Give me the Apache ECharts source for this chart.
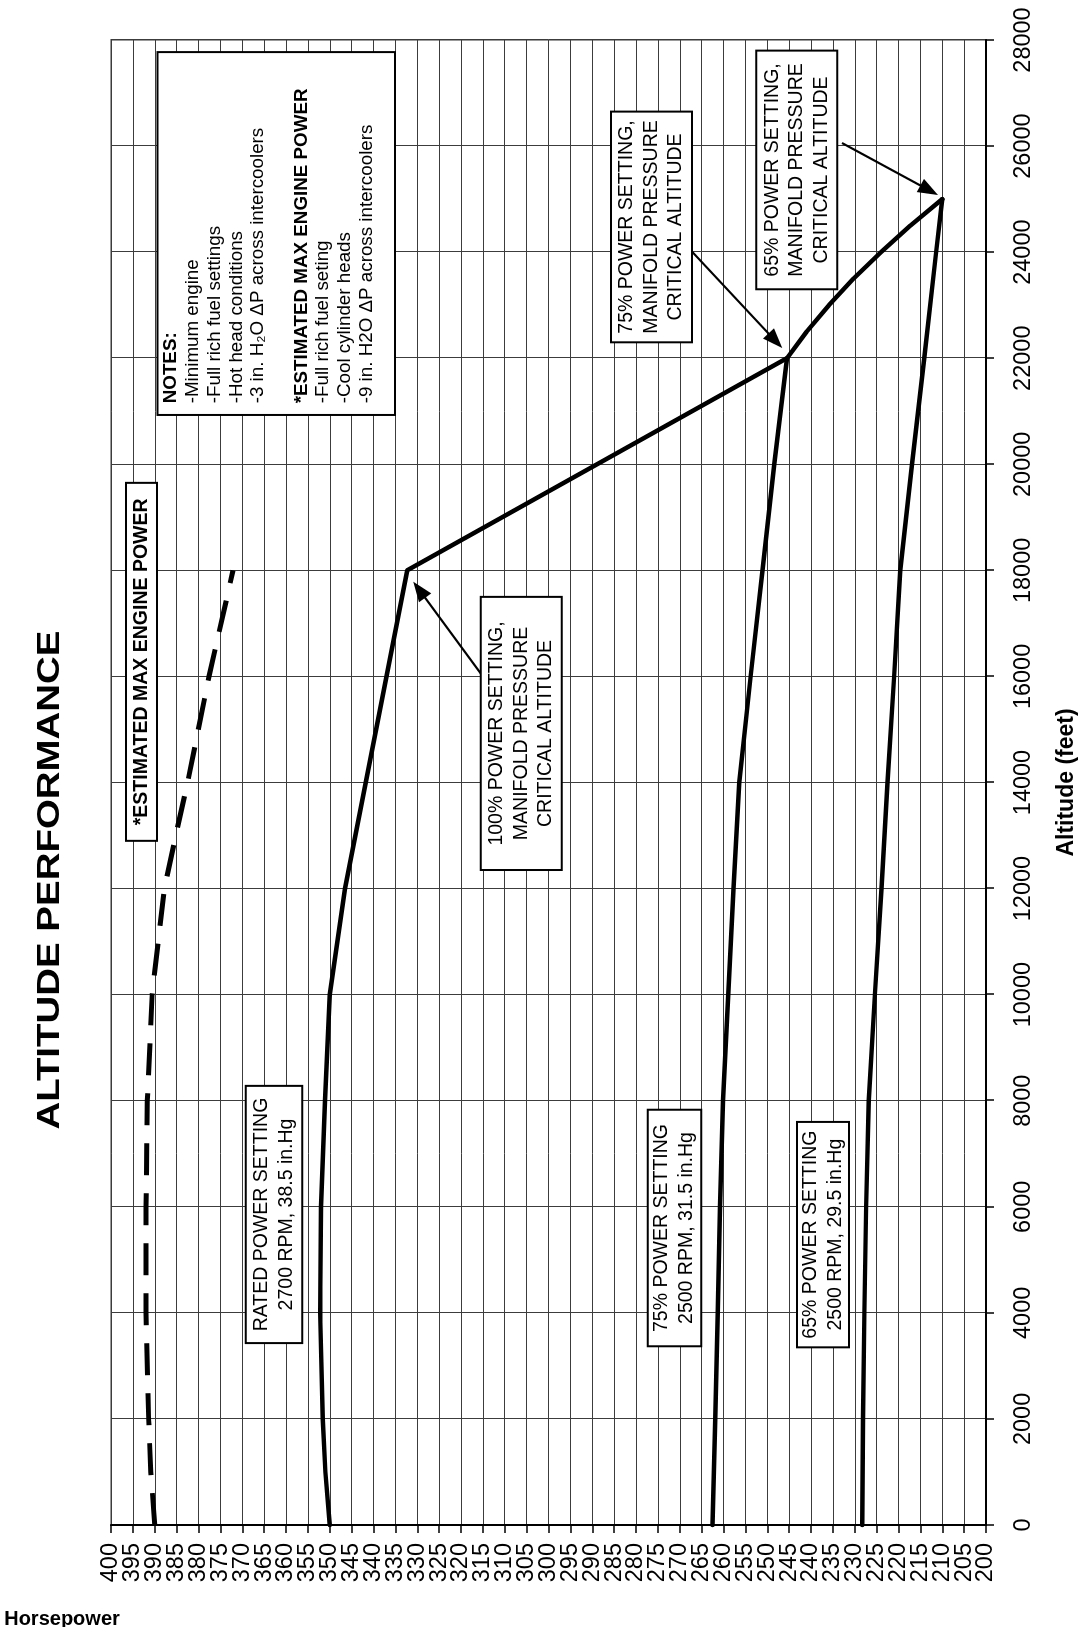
<!DOCTYPE html>
<html>
<head>
<meta charset="utf-8">
<script src="https://cdn.jsdelivr.net/npm/echarts@6/dist/echarts.min.js"></script>
<style>
html,body{margin:0;padding:0;background:#fff;width:1079px;height:1627px;overflow:hidden;}
#wrap{position:absolute;left:0;top:0;width:1627px;height:1079px;transform-origin:0 0;transform:translate(0,1627px) rotate(-90deg);}
#chart{width:1627px;height:1079px;background:#fff;}
</style>
</head>
<body>
<div id="wrap"><div id="chart"></div></div>
<script>
// ---------------- DATA ----------------
const chartTitle = 'ALTITUDE PERFORMANCE';
const altitudeAxisName = 'Altitude (feet)';
const powerAxisName = 'Horsepower';

// *Estimated max engine power (dashed)
const maxPowerAltitude = [0, 1000, 2000, 4000, 6000, 8000, 10000, 12000, 13000, 14000, 16000, 18000];
const maxPowerHp       = [390, 390.9, 391.4, 392, 392, 391.7, 390.6, 387.8, 385.2, 382.5, 377.6, 372.1];

// Rated power setting, 2700 RPM, 38.5 in.Hg
const ratedAltitude = [0, 1000, 2000, 4000, 6000, 8000, 10000, 12000, 18000, 22000, 22500, 23000, 23500, 24000, 24500, 25000];
const ratedHp       = [350, 351, 351.6, 352.2, 352, 351.1, 350, 346.5, 332.3, 245.5, 241.0, 235.9, 230.3, 224.0, 217.3, 210];

// 75% power setting, 2500 RPM, 31.5 in.Hg
const power75Altitude = [0, 2000, 4000, 6000, 8000, 10000, 12000, 14000, 16000, 18000, 20000, 22000];
const power75Hp       = [262.5, 261.9, 261.3, 260.8, 260.1, 258.9, 257.7, 256.4, 253.8, 251.1, 248.4, 245.5];

// 65% power setting, 2500 RPM, 29.5 in.Hg
const power65Altitude = [0, 2000, 4000, 6000, 8000, 10000, 12000, 14000, 16000, 18000, 20000, 22000, 24000, 25000];
const power65Hp       = [228.3, 228.1, 227.8, 227.4, 226.8, 225.4, 223.9, 222.5, 221.0, 219.6, 216.9, 214.1, 211.4, 210];

// axis ranges / steps
const altitudeRange = [0, 28000], altitudeStep = 2000;
const powerRange = [200, 400], powerStep = 5;

// annotation texts
const note65Critical  = ['65% POWER SETTING,', 'MANIFOLD PRESSURE', 'CRITICAL ALTITUDE'];
const note75Critical  = ['75% POWER SETTING,', 'MANIFOLD PRESSURE', 'CRITICAL ALTITUDE'];
const note100Critical = ['100% POWER SETTING,', 'MANIFOLD PRESSURE', 'CRITICAL ALTITUDE'];
const noteRated       = ['RATED POWER SETTING', '2700 RPM, 38.5 in.Hg'];
const note75Setting   = ['75% POWER SETTING', '2500 RPM, 31.5 in.Hg'];
const note65Setting   = ['65% POWER SETTING', '2500 RPM, 29.5 in.Hg'];
const noteMaxPower    = ['*ESTIMATED MAX ENGINE POWER'];
const notesLines = [
  '{b|NOTES:}',
  '-Minimum engine',
  '-Full rich fuel settings',
  '-Hot head conditions',
  '-3 in. H\u2082O \u0394P across intercoolers',
  '',
  '{b|*ESTIMATED MAX ENGINE POWER}',
  '-Full rich fuel seting',
  '-Cool cylinder heads',
  '-9 in. H2O \u0394P across intercoolers'
];

// ---------------- LAYOUT (annotation boxes in data units) ----------------
const FONT = '"Liberation Sans", Arial, Helvetica, sans-serif';
const boxLayout = [
  {lines: note65Critical,  alt: [23300, 27800], hp: [252.5, 234.0], size: 19.5, lh: 24.5},
  {lines: note75Critical,  alt: [22300, 26650], hp: [285.7, 267.2], size: 19.5, lh: 24.5},
  {lines: note100Critical, alt: [12350, 17500], hp: [315.5, 297.0], size: 19.5, lh: 24.5},
  {lines: noteRated,       alt: [3430, 8280],   hp: [369.2, 356.3], size: 19.5, lh: 25},
  {lines: note75Setting,   alt: [3370, 7830],   hp: [277.3, 265.1], size: 19.5, lh: 25},
  {lines: note65Setting,   alt: [3350, 7600],   hp: [243.2, 231.3], size: 19.5, lh: 25},
  {lines: noteMaxPower,    alt: [12900, 19650], hp: [396.6, 389.5], size: 19.5, lh: 24, bold: true}
];
const notesBox = {alt: [20930, 27772], hp: [389.4, 335.1], textAlt: 21150, textHp: 388.7, size: 18.8, lh: 21.7};
const arrowLayout = [
  {from: [26058, 232.9], to: [25077, 211.0]},
  {from: [24000, 267.1], to: [22192, 246.6]},
  {from: [16046, 315.4], to: [17786, 330.9]}
];
const titleLayout = {x: 747, y: 50, size: 31, stretch: 1.24};

function pairs(xs, ys) { return xs.map((x, i) => [x, ys[i]]); }

const chart = echarts.init(document.getElementById('chart'), null, {renderer: 'canvas', width: 1627, height: 1079});

const labelFont = {color: '#000', fontFamily: FONT, fontSize: 23.5};
const solidStyle = {color: '#000', width: 4.5, type: 'solid', cap: 'round', join: 'round'};

const option = {
  animation: false,
  backgroundColor: '#fff',
  textStyle: {fontFamily: FONT, color: '#000'},
  grid: {
    left: 102, right: 40, top: 111, bottom: 93,
    show: true, borderColor: '#9a9a9a', borderWidth: 2, backgroundColor: 'transparent',
    containLabel: false, outerBoundsMode: 'none'
  },
  xAxis: {
    type: 'value', min: altitudeRange[0], max: altitudeRange[1], interval: altitudeStep,
    axisLine: {show: true, onZero: false, lineStyle: {color: '#000', width: 2}},
    axisTick: {show: true, inside: false, length: 8, lineStyle: {color: '#000', width: 1.5}},
    splitLine: {show: true, lineStyle: {color: '#3c3c3c', width: 1}},
    axisLabel: Object.assign({}, labelFont, {margin: 26, showMinLabel: true, showMaxLabel: true, formatter: v => String(v)}),
    name: altitudeAxisName, nameLocation: 'middle', nameGap: 69,
    nameTextStyle: {fontFamily: FONT, fontSize: 23, fontWeight: 'bold', color: '#000'}
  },
  yAxis: [
    { // main horsepower axis: line, ticks, grid, labels at multiples of 10
      type: 'value', min: powerRange[0], max: powerRange[1], interval: powerStep, position: 'left',
      axisLine: {show: true, onZero: false, lineStyle: {color: '#000', width: 2}},
      axisTick: {show: true, inside: false, length: 8, lineStyle: {color: '#000', width: 1.5}},
      splitLine: {show: true, lineStyle: {color: '#3c3c3c', width: 1}},
      axisLabel: Object.assign({}, labelFont, {margin: 18, showMinLabel: true, showMaxLabel: true,
        formatter: v => (v % 10 === 0 ? String(v) : '')})
    },
    { // same scale: labels at the odd multiples of 5
      type: 'value', min: powerRange[0], max: powerRange[1], interval: powerStep, position: 'left', offset: 0,
      axisLine: {show: false}, axisTick: {show: false}, splitLine: {show: false},
      axisLabel: Object.assign({}, labelFont, {margin: 18, showMinLabel: false, showMaxLabel: false,
        formatter: v => (v % 10 === 5 ? String(v) : '')})
    }
  ],
  series: [
    {name: 'maxPower', type: 'line', data: pairs(maxPowerAltitude, maxPowerHp), symbol: 'none', z: 5,
     lineStyle: {color: '#000', width: 5, type: [32, 18], cap: 'butt'}},
    {name: 'rated', type: 'line', data: pairs(ratedAltitude, ratedHp), symbol: 'none', z: 5, lineStyle: solidStyle},
    {name: 'p75', type: 'line', data: pairs(power75Altitude, power75Hp), symbol: 'none', z: 5, lineStyle: solidStyle},
    {name: 'p65', type: 'line', data: pairs(power65Altitude, power65Hp), symbol: 'none', z: 5, lineStyle: solidStyle}
  ]
};
chart.setOption(option);

const toPx = (a, h) => chart.convertToPixel({xAxisIndex: 0, yAxisIndex: 0}, [a, h]);
const graphics = [];

function rectFrom(alt, hp) {
  const p1 = toPx(alt[0], hp[0]), p2 = toPx(alt[1], hp[1]);
  return {x: Math.min(p1[0], p2[0]), y: Math.min(p1[1], p2[1]), w: Math.abs(p2[0] - p1[0]), h: Math.abs(p2[1] - p1[1])};
}

// chart title
graphics.push({type: 'text', z: 101, x: titleLayout.x, y: titleLayout.y, scaleX: titleLayout.stretch,
  style: {text: chartTitle, fill: '#000', fontFamily: FONT, fontSize: titleLayout.size, fontWeight: 'bold',
    align: 'center', textAlign: 'center', verticalAlign: 'middle', textVerticalAlign: 'middle'}});

boxLayout.forEach(b => {
  const r = rectFrom(b.alt, b.hp);
  graphics.push({type: 'rect', z: 100, shape: {x: r.x, y: r.y, width: r.w, height: r.h},
    style: {fill: '#fff', stroke: '#000', lineWidth: 2}});
  graphics.push({type: 'text', z: 101, x: r.x + r.w / 2, y: r.y + r.h / 2,
    style: {text: b.lines.join('\n'), fill: '#000', fontFamily: FONT, fontSize: b.size,
      fontWeight: b.bold ? 'bold' : 'normal', lineHeight: b.lh,
      align: 'center', textAlign: 'center', verticalAlign: 'middle', textVerticalAlign: 'middle'}});
});

// notes box
(function () {
  const r = rectFrom(notesBox.alt, notesBox.hp);
  graphics.push({type: 'rect', z: 100, shape: {x: r.x, y: r.y, width: r.w, height: r.h},
    style: {fill: '#fff', stroke: '#000', lineWidth: 2}});
  const t = toPx(notesBox.textAlt, notesBox.textHp);
  graphics.push({type: 'text', z: 101, x: t[0], y: t[1],
    style: {text: notesLines.join('\n'), fill: '#000', fontFamily: FONT, fontSize: notesBox.size,
      lineHeight: notesBox.lh, align: 'left', textAlign: 'left', verticalAlign: 'top', textVerticalAlign: 'top',
      rich: {b: {fontFamily: FONT, fontSize: notesBox.size, fontWeight: 'bold', fill: '#000', lineHeight: notesBox.lh}}}});
})();

// arrows
arrowLayout.forEach(a => {
  const s = toPx(a.from[0], a.from[1]), e = toPx(a.to[0], a.to[1]);
  const dx = e[0] - s[0], dy = e[1] - s[1], len = Math.hypot(dx, dy);
  const ux = dx / len, uy = dy / len, nx = -uy, ny = ux;
  const L = 20, W = 7.5;
  const bx = e[0] - ux * L, by = e[1] - uy * L;
  graphics.push({type: 'line', z: 99, shape: {x1: s[0], y1: s[1], x2: bx + ux * 3, y2: by + uy * 3},
    style: {stroke: '#000', lineWidth: 2.2}});
  graphics.push({type: 'polygon', z: 99, shape: {points: [[e[0], e[1]], [bx + nx * W, by + ny * W], [bx - nx * W, by - ny * W]]},
    style: {fill: '#000'}});
});

// vertical axis name (reads top-to-bottom in this frame)
graphics.push({type: 'text', z: 101, x: 8, y: 62, rotation: -Math.PI / 2,
  style: {text: powerAxisName, fill: '#000', fontFamily: FONT, fontSize: 20, fontWeight: 'bold',
    align: 'center', textAlign: 'center', verticalAlign: 'middle', textVerticalAlign: 'middle'}});

chart.setOption({graphic: {elements: graphics}});
</script>
</body>
</html>
